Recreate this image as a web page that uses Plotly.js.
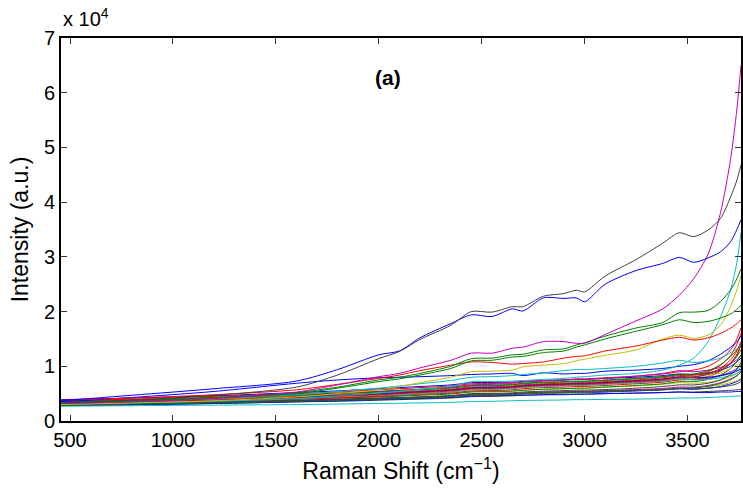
<!DOCTYPE html>
<html>
<head>
<meta charset="utf-8">
<script src="https://cdn.plot.ly/plotly-3.0.1.min.js"></script>
<style>html,body{margin:0;padding:0;background:#fff;}#chart{width:743px;height:494px;}</style>
</head>
<body>
<div id="chart"></div>
<script>
// Raman shift grid (cm^-1)
const ramanShift = [456, 800, 1200, 1600, 1800, 2000, 2100, 2200, 2350, 2450, 2550, 2650, 2700, 2800, 2900, 2960, 3000, 3100, 3250, 3380, 3460, 3530, 3600, 3660, 3710, 3740, 3760];

// Prominent spectra
const grayTop   = [3300, 3800, 4700, 6200, 8400, 11400, 12700, 14900, 17500, 20000, 19900, 20900, 20900, 22800, 23300, 23900, 23600, 26500, 29500, 32500, 34400, 33700, 34900, 37000, 41000, 44000, 46800];
const blueTop   = [3700, 4700, 5900, 7300, 9400, 12100, 12800, 15200, 17800, 19400, 19100, 20500, 20100, 22500, 22400, 22500, 21800, 25000, 27500, 28800, 29900, 29000, 29800, 30900, 32800, 35000, 36800];
const magentaTop= [3200, 3500, 4100, 5300, 6600, 8100, 8700, 9700, 11100, 12400, 12400, 13300, 13500, 14500, 14500, 14200, 14200, 15800, 18300, 20500, 23000, 26000, 30500, 38000, 48000, 57000, 65000];
const greenA    = [3400, 3700, 4300, 5200, 6200, 7500, 8000, 8700, 10000, 11400, 11500, 12100, 12200, 13000, 13200, 13900, 14300, 15500, 17000, 18000, 19800, 19900, 20200, 21800, 24000, 26000, 27800];
const greenB    = [3300, 3600, 4200, 5000, 6000, 7200, 7700, 8400, 9600, 11000, 11100, 11700, 11800, 12500, 12800, 13500, 13900, 15000, 16400, 17600, 18500, 18000, 18200, 18800, 19600, 20400, 21200];
const redTop    = [3800, 4200, 4800, 5700, 6700, 7800, 8400, 9200, 10200, 10800, 10700, 10400, 10500, 10800, 11500, 11800, 11900, 12800, 13700, 14800, 15300, 14800, 15200, 16000, 17000, 17800, 18500];
const yellowTop = [3000, 3300, 3700, 4400, 5000, 5700, 6300, 7000, 8000, 9000, 9100, 9300, 9900, 10200, 10500, 11000, 11300, 12000, 13000, 15000, 15700, 15100, 15700, 17500, 21000, 24000, 26500];
const cyanRise  = [3100, 3300, 3600, 4100, 4600, 5100, 5400, 5800, 6300, 7200, 7200, 7300, 7400, 7600, 7800, 8000, 8100, 8400, 8700, 9300, 10200, 11500, 14500, 19000, 24000, 29000, 34500];
const blueMid   = [3500, 4300, 5400, 6900, 7500, 7900, 8000, 8100, 8300, 8500, 8600, 8700, 8300, 8800, 8600, 8700, 8700, 9100, 9300, 9600, 10000, 10300, 11000, 12200, 13500, 14500, 15500];
const cyanMid   = [3300, 3600, 4100, 4800, 5400, 6000, 6400, 6800, 7400, 8000, 8100, 8300, 8500, 8800, 9200, 9400, 9400, 9600, 10000, 10600, 11100, 10700, 11000, 11500, 12500, 13200, 14000];

// Dense lower cluster of spectra
const c01 = [3900, 4200, 4600, 5200, 5500, 5900, 6100, 6300, 6600, 7000, 7050, 7100, 7200, 7400, 7500, 7600, 7600, 7800, 8000, 8300, 8600, 8500, 8800, 9300, 10000, 10800, 11500];
const c02 = [3600, 3900, 4300, 4800, 5100, 5400, 5600, 5800, 6100, 6500, 6550, 6700, 6900, 7100, 7200, 7300, 7300, 7500, 7800, 8100, 8500, 8400, 8700, 9500, 10600, 11800, 13000];
const c03 = [3700, 4000, 4500, 5000, 5300, 5700, 5900, 6100, 6400, 6800, 6850, 7000, 7200, 7400, 7500, 7700, 7700, 7900, 8200, 8600, 9000, 9300, 10000, 11300, 13000, 15000, 17000];
const c04 = [3400, 3600, 3900, 4300, 4600, 4900, 5000, 5200, 5500, 5900, 5950, 6100, 6200, 6400, 6500, 6600, 6600, 6800, 7000, 7300, 7700, 7600, 7800, 8200, 8800, 9300, 9800];
const c05 = [3500, 3800, 4200, 4700, 5000, 5400, 5600, 5800, 6200, 6600, 6700, 6900, 7100, 7300, 7500, 7600, 7600, 7800, 8200, 8700, 9200, 9000, 9300, 9800, 10500, 11200, 12000];
const c06 = [3200, 3400, 3700, 4100, 4300, 4500, 4600, 4800, 5000, 5400, 5450, 5500, 5650, 5800, 5900, 6000, 6000, 6200, 6400, 6700, 7000, 6900, 7100, 7500, 8100, 8700, 9300];
const c07 = [3300, 3500, 3900, 4400, 4700, 5000, 5200, 5400, 5700, 6100, 6150, 6300, 6500, 6700, 6800, 6900, 6900, 7100, 7400, 7700, 8100, 8100, 8500, 9200, 10500, 12000, 14000];
const c08 = [3000, 3200, 3400, 3700, 3900, 4100, 4200, 4300, 4500, 4750, 4800, 4900, 5000, 5100, 5200, 5200, 5200, 5300, 5500, 5700, 5900, 5800, 6000, 6300, 6800, 7200, 7600];
const c09 = [3100, 3300, 3600, 4000, 4200, 4400, 4550, 4700, 4950, 5300, 5350, 5450, 5600, 5800, 5900, 6000, 6000, 6200, 6500, 6800, 7200, 7200, 7600, 8400, 9600, 10900, 12100];
const c10 = [3400, 3600, 4000, 4500, 4800, 5100, 5300, 5500, 5800, 6200, 6250, 6400, 6600, 6800, 6900, 7000, 7000, 7200, 7500, 7900, 8300, 8400, 9000, 10200, 12000, 14000, 16000];
const c11 = [2700, 2800, 2900, 3000, 3100, 3200, 3250, 3300, 3400, 3550, 3600, 3700, 3750, 3800, 3850, 3900, 3900, 3950, 4000, 4100, 4200, 4200, 4300, 4400, 4500, 4550, 4600];
const c12 = [3200, 3400, 3700, 4100, 4300, 4600, 4800, 5000, 5300, 5800, 5850, 6000, 6200, 6400, 6500, 6600, 6600, 6800, 7100, 7400, 7800, 7600, 7800, 8300, 9000, 9600, 10300];
const c13 = [3000, 3200, 3400, 3700, 3850, 4000, 4100, 4200, 4400, 4700, 4750, 4850, 4950, 5100, 5200, 5300, 5300, 5450, 5650, 5850, 6100, 6100, 6300, 6600, 7000, 7400, 7800];
const c14 = [2900, 3000, 3200, 3500, 3600, 3800, 3900, 4000, 4200, 4450, 4500, 4600, 4700, 4800, 4800, 4900, 4900, 5000, 5100, 5200, 5300, 5300, 5400, 5500, 5600, 5700, 5800];
const c15 = [2900, 3000, 3200, 3500, 3700, 3900, 4000, 4100, 4300, 4550, 4600, 4700, 4700, 4800, 4900, 4900, 4900, 5000, 5100, 5200, 5300, 5200, 5200, 5300, 5300, 5400, 5400];
const c16 = [3500, 3800, 4200, 4700, 5000, 5300, 5500, 5700, 6000, 6400, 6450, 6600, 6800, 7000, 7100, 7200, 7200, 7400, 7700, 8100, 8500, 8600, 9200, 10300, 11800, 13000, 14200];
const c17 = [3100, 3300, 3600, 4000, 4200, 4500, 4700, 4900, 5100, 5500, 5550, 5700, 5900, 6100, 6200, 6300, 6300, 6500, 6800, 7100, 7500, 7600, 8100, 9100, 10600, 12200, 13800];
const c18 = [3200, 3400, 3700, 4100, 4400, 4700, 4800, 5000, 5300, 5700, 5750, 5900, 6100, 6300, 6400, 6500, 6500, 6700, 7000, 7300, 7700, 7500, 7600, 7900, 8300, 8700, 9100];
const c19 = [3000, 3200, 3400, 3700, 3900, 4100, 4200, 4300, 4500, 4850, 4900, 5000, 5100, 5250, 5350, 5450, 5450, 5550, 5750, 5950, 6200, 6200, 6500, 7000, 7700, 8300, 9000];
const c20 = [3300, 3500, 3900, 4300, 4500, 4800, 5000, 5200, 5500, 5900, 5950, 6100, 6300, 6500, 6600, 6700, 6700, 6900, 7200, 7500, 7900, 7900, 8200, 8800, 9600, 10300, 11000];
const c21 = [3100, 3300, 3500, 3800, 4000, 4200, 4300, 4400, 4650, 5000, 5050, 5150, 5300, 5450, 5550, 5650, 5650, 5750, 6000, 6300, 6600, 6600, 6900, 7500, 8500, 9500, 10700];
const c22 = [3300, 3500, 3800, 4300, 4600, 4900, 5100, 5300, 5600, 6000, 6050, 6200, 6400, 6600, 6700, 6800, 6800, 7000, 7300, 7600, 8000, 7900, 8000, 8300, 8700, 9100, 9500];
const c23 = [2900, 3100, 3300, 3600, 3800, 4000, 4100, 4200, 4450, 4700, 4750, 4850, 4950, 5050, 5150, 5250, 5250, 5350, 5550, 5750, 5950, 6050, 6350, 6850, 7550, 8250, 8950];
const c24 = [3200, 3400, 3800, 4200, 4500, 4800, 5000, 5200, 5500, 5900, 5950, 6100, 6300, 6500, 6600, 6700, 6700, 6900, 7200, 7500, 7900, 8000, 8600, 9600, 11200, 12800, 14500];
const c25 = [3000, 3200, 3400, 3700, 3900, 4100, 4200, 4400, 4600, 4900, 4950, 5000, 5100, 5300, 5300, 5400, 5400, 5500, 5600, 5700, 5900, 5900, 6000, 6200, 6500, 6800, 7200];

// Axis ticks
const xTicks = [500, 1000, 1500, 2000, 2500, 3000, 3500];
const yTickVals = [0, 10000, 20000, 30000, 40000, 50000, 60000, 70000];
const yTickText = ['0', '1', '2', '3', '4', '5', '6', '7'];

// MATLAB-style colour order
const C = {b: '#0000ff', g: '#008000', r: '#ff0000', c: '#00bfbf', m: '#bf00bf', y: '#bfbf00', k: '#404040'};

const series = [
  [c01, 'b'], [c02, 'g'], [c03, 'r'], [c04, 'c'], [c05, 'm'], [c06, 'y'], [c07, 'k'],
  [c08, 'b'], [c09, 'g'], [c10, 'r'], [c11, 'c'], [c12, 'm'], [c13, 'y'], [c14, 'k'],
  [c15, 'b'], [c16, 'g'], [c17, 'r'], [c18, 'c'], [c19, 'm'], [c20, 'y'], [c21, 'k'],
  [c22, 'b'], [c23, 'g'], [c24, 'r'], [c25, 'k'],
  [blueMid, 'b'], [cyanMid, 'c'], [cyanRise, 'c'], [yellowTop, 'y'], [redTop, 'r'],
  [greenB, 'g'], [greenA, 'g'], [magentaTop, 'm'], [blueTop, 'b'], [grayTop, 'k']
];

const traces = series.map(([ys, col]) => ({
  x: ramanShift, y: ys, type: 'scatter', mode: 'lines',
  line: {color: C[col], width: 1, shape: 'spline', smoothing: 0.8},
  hoverinfo: 'skip', showlegend: false
}));

const fontFam = '"Liberation Sans", Arial, Helvetica, sans-serif';
const axisCommon = {
  showline: true, linecolor: '#000', linewidth: 2, mirror: 'ticks',
  ticks: 'inside', ticklen: 6, tickwidth: 1, tickcolor: '#333',
  showgrid: false, zeroline: false,
  tickfont: {family: fontFam, size: 20, color: '#000'}
};

const layout = {
  width: 743, height: 494,
  margin: {l: 61, r: 2, t: 38, b: 73, pad: 0},
  paper_bgcolor: '#fff', plot_bgcolor: '#fff',
  font: {family: fontFam, color: '#000'},
  xaxis: Object.assign({}, axisCommon, {
    range: [456, 3760], tickvals: xTicks, ticktext: xTicks.map(String),
    title: {text: 'Raman Shift (cm<sup>\u22121</sup>)', font: {family: fontFam, size: 23, color: '#000'}, standoff: 13}
  }),
  yaxis: Object.assign({}, axisCommon, {
    range: [0, 70000], tickvals: yTickVals, ticktext: yTickText,
    title: {text: 'Intensity (a.u.)', font: {family: fontFam, size: 23, color: '#000'}, standoff: 9}
  }),
  annotations: [
    {text: 'x 10<sup>4</sup>', xref: 'paper', yref: 'paper', x: 0, y: 1.015, xanchor: 'left', yanchor: 'bottom',
     showarrow: false, font: {family: fontFam, size: 20, color: '#000'}},
    {text: '<b>(a)</b>', xref: 'paper', yref: 'paper', x: 0.481, y: 0.896, xanchor: 'center', yanchor: 'middle',
     showarrow: false, font: {family: fontFam, size: 21, color: '#000'}}
  ]
};

Plotly.newPlot('chart', traces, layout, {staticPlot: true, displayModeBar: false});
</script>
</body>
</html>
